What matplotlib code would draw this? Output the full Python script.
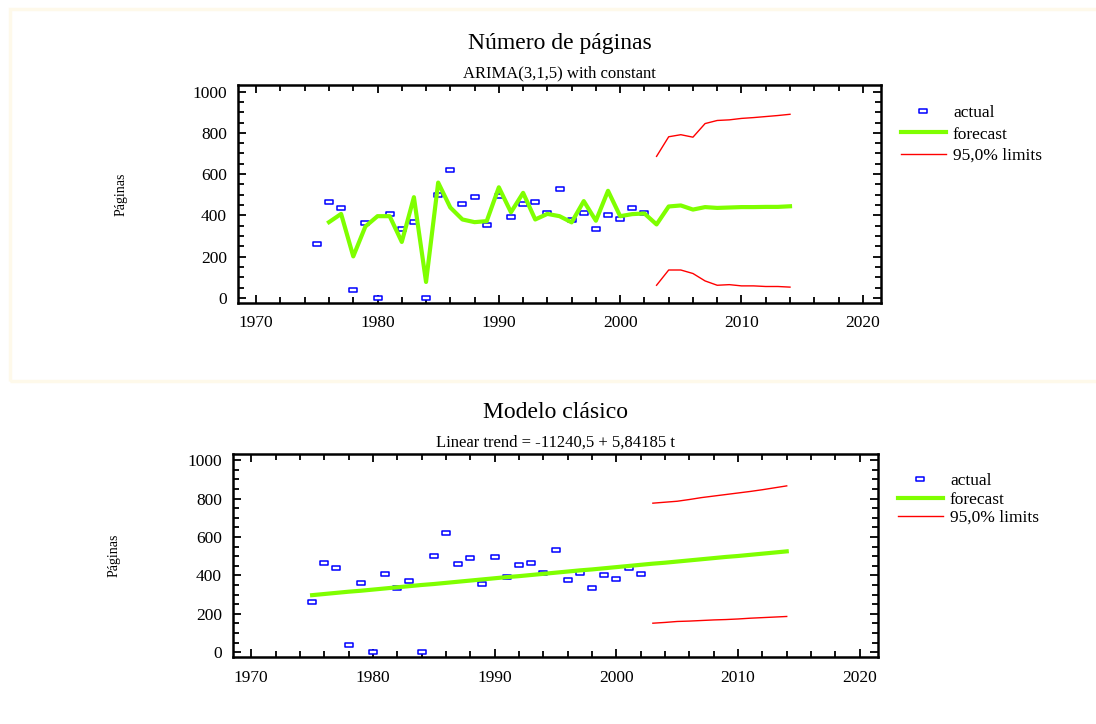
import matplotlib
matplotlib.use('Agg')
import matplotlib.pyplot as plt
from matplotlib.path import Path
from matplotlib.patches import Rectangle

plt.rcParams['font.family'] = ['Liberation Serif', 'DejaVu Serif']

# observed data
years = list(range(1975, 2003))
actual = [259, 464, 438, 39, 361, 0, 407, 335, 370, 0, 499, 620, 457, 491, 354,
          496, 391, 454, 467, 411, 530, 378, 411, 332, 403, 382, 436, 409]

# ARIMA(3,1,5) forecast
arima_years = list(range(1976, 2015))
arima_fc = [367, 407, 201, 346, 396, 396, 271, 488, 77, 559, 438, 380, 367, 372,
            536, 415, 509, 380, 407, 396, 366, 469, 374, 519, 396, 406, 409, 356,
            443, 448, 428, 440, 436, 438, 440, 440, 441, 441, 444]
lim_years = list(range(2003, 2015))
arima_upper = [686, 781, 791, 779, 845, 860, 863, 870, 874, 879, 884, 890]
arima_lower = [61, 135, 135, 118, 82, 61, 64, 58, 58, 55, 55, 52]

# linear trend model
trend_years = list(range(1975, 2015))
trend_fc = [297, 303, 309, 315, 320, 326, 332, 338, 344, 350, 355, 361, 367, 373,
            379, 385, 391, 396, 402, 408, 414, 420, 426, 431, 437, 443, 449, 455,
            461, 466, 472, 478, 484, 490, 496, 501, 507, 513, 519, 525]
trend_upper = [776, 781, 786, 795, 805, 813, 821, 829, 837, 846, 856, 866]
trend_lower = [151, 155, 160, 162, 165, 168, 170, 173, 177, 180, 183, 186]

box = Path([(-1, -0.55), (1, -0.55), (1, 0.55), (-1, 0.55), (-1, -0.55)],
           [Path.MOVETO, Path.LINETO, Path.LINETO, Path.LINETO, Path.CLOSEPOLY])

fig = plt.figure(figsize=(10.96, 7.24), dpi=100)
fig.patches.append(Rectangle((10/1096, 1 - 381/724), 1090/1096, 372/724,
                             transform=fig.transFigure, fill=False,
                             edgecolor='#fef9ea', linewidth=2.5))


def panel(rect, title, subtitle, fc_years, fc, up, lo, title_y, sub_y, ylab_x,
          leg_y, leg_sp):
    ax = fig.add_axes(rect)
    ax.plot(years, actual, linestyle='none', marker=box, markersize=6,
            markerfacecolor='white', markeredgecolor='#0000ff', markeredgewidth=1.1,
            label='actual')
    ax.plot(fc_years, fc, color='#7fff00', linewidth=3, label='forecast')
    ax.plot(lim_years, up, color='#ff0000', linewidth=1, label='95,0% limits')
    ax.plot(lim_years, lo, color='#ff0000', linewidth=1)
    ax.set_xlim(1968.5, 2021.5)
    ax.set_ylim(-25, 1032)
    ax.set_xticks([1970, 1980, 1990, 2000, 2010, 2020])
    ax.set_xticks(range(1970, 2022, 2), minor=True)
    ax.set_yticks([0, 200, 400, 600, 800, 1000])
    ax.set_yticks(range(0, 1001, 50), minor=True)
    ax.tick_params(which='both', direction='in', top=True, right=True,
                   labelsize=12.5, width=1.3)
    ax.tick_params(which='major', length=6)
    ax.tick_params(which='minor', length=4)
    ax.tick_params(axis='x', pad=9)
    ax.tick_params(axis='y', pad=8)
    for s in ax.spines.values():
        s.set_linewidth(1.8)
    fig.text(0.5 * (rect[0] * 2 + rect[2]), title_y, title, ha='center', va='center', fontsize=17)
    fig.text(0.5 * (rect[0] * 2 + rect[2]), sub_y, subtitle, ha='center', va='center', fontsize=12)
    fig.text(ylab_x, rect[1] + rect[3] * 0.5, 'Páginas', rotation=90,
             ha='center', va='center', fontsize=10)
    ax.legend(loc='upper left', bbox_to_anchor=(1.02, leg_y), frameon=False,
              fontsize=12.5, handlelength=2.6, labelspacing=leg_sp, handletextpad=0.4,
              borderaxespad=0)
    return ax


panel([238/1096, 1 - 303/724, 643/1096, 218/724], 'Número de páginas',
      'ARIMA(3,1,5) with constant', arima_years, arima_fc, arima_upper, arima_lower,
      1 - 44/724, 1 - 73/724, 121/1096, 0.94, 0.3)

panel([233/1096, 1 - 657/724, 645/1096, 203/724], 'Modelo clásico',
      'Linear trend = -11240,5 + 5,84185 t', trend_years, trend_fc, trend_upper, trend_lower,
      1 - 412/724, 1 - 443/724, 114/1096, 0.94, 0.13)

fig.savefig('out.png', dpi=100, facecolor='white')
